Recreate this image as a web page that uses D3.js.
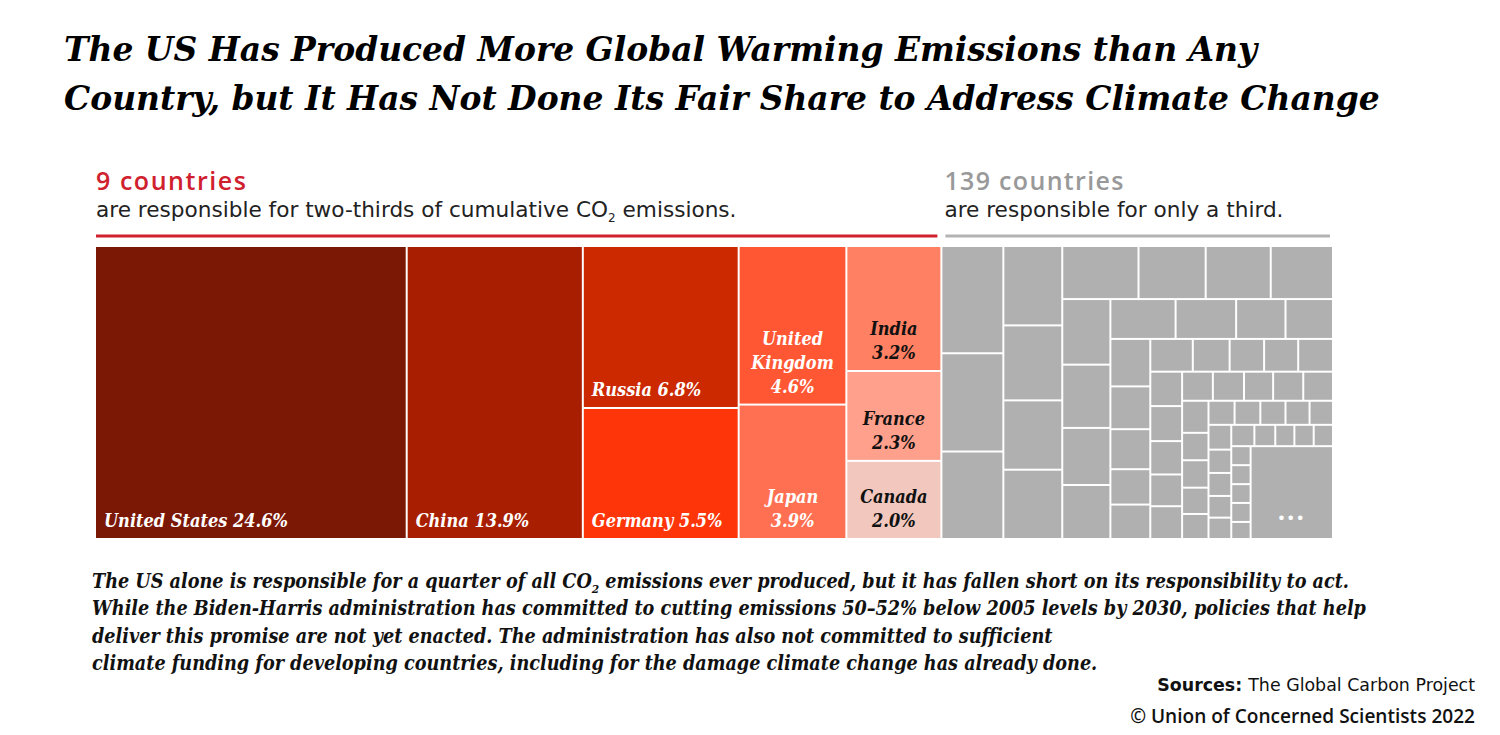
<!DOCTYPE html>
<html>
<head>
<meta charset="utf-8">
<script src="https://cdn.jsdelivr.net/npm/d3@7"></script>
<style>
	body { margin: 0; background: #fff; }
	svg { display: block; }
</style>
</head>
<body>
<div id="chart"></div>
<script>
// the 9 big emitters, share of cumulative CO2 (%)
var countries = ["United States", "China", "Russia", "Germany", "United Kingdom", "Japan", "India", "France", "Canada"];
var labelLines = [["United States 24.6%"], ["China 13.9%"], ["Russia 6.8%"], ["Germany 5.5%"], ["United", "Kingdom", "4.6%"], ["Japan", "3.9%"], ["India", "3.2%"], ["France", "2.3%"], ["Canada", "2.0%"]];
var shares = [24.6, 13.9, 6.8, 5.5, 4.6, 3.9, 3.2, 2.3, 2.0];
var colors = ["#7b1705", "#a81e00", "#cc2900", "#ff350a", "#ff5733", "#ff7052", "#ff8062", "#ffa08c", "#f2c8be"];
var textColors = ["#fff", "#fff", "#fff", "#fff", "#fff", "#fff", "#111", "#111", "#111"];
var centered = [false, false, false, false, true, true, true, true, true];
// which countries are stacked in the same column
var columnGroups = [[0], [1], [2, 3], [4, 5], [6, 7, 8]];

// the other 139 countries (%)
var grayColA = [1.79, 1.64, 1.46];
var grayColB = [1.26, 1.19, 1.10, 1.10];
var grayStrips = [
	[1.09, 0.96, 0.93, 0.89],
	[0.85, 0.82, 0.74, 0.70],
	[0.70, 0.65, 0.53, 0.51],
	[0.51, 0.46, 0.43, 0.38, 0.37],
	[0.375, 0.325, 0.304, 0.301, 0.307],
	[0.295, 0.30, 0.286, 0.272, 0.281],
	[0.241, 0.244, 0.228, 0.236, 0.233],
	[0.228, 0.195, 0.195, 0.187, 0.178],
	[0.169, 0.167, 0.163, 0.156, 0.152],
	[0.152, 0.143, 0.141, 0.133, 0.131],
	[0.133, 0.12, 0.11, 0.111, 0.111],
	[0.099, 0.099, 0.098, 0.099, 0.089]
];
var grayRest = 2.06;

var titleLines = ["The US Has Produced More Global Warming Emissions than Any", "Country, but It Has Not Done Its Fair Share to Address Climate Change"];
var noteLines = [
	["The US alone is responsible for a quarter of all CO", "2", " emissions ever produced, but it has fallen short on its responsibility to act."],
	["While the Biden-Harris administration has committed to cutting emissions 50\u201352% below 2005 levels by 2030, policies that help"],
	["deliver this promise are not yet enacted. The administration has also not committed to sufficient"],
	["climate funding for developing countries, including for the damage climate change has already done."]
];

var W = 1500, H = 735;
var svg = d3.select("#chart")
	.append("svg")
	.attr("width", W)
	.attr("height", H);

var serif = "'DejaVu Serif', serif";
var sans = "'DejaVu Sans', sans-serif";
var headSans = "'Open Sans', 'Noto Sans', sans-serif";

// scale a text so that it takes a given width
function fitSize(sel, width)
{
	var size = parseFloat(sel.attr("font-size"));
	var len = sel.node().getComputedTextLength();
	return size * width / len;
}

// title
var title = svg.append("g");
title.selectAll("text")
	.data(titleLines)
	.enter()
	.append("text")
	.attr("x", 64)
	.attr("y", function(d, i) { return 61 + i * 49; })
	.attr("font-family", serif)
	.attr("font-weight", "bold")
	.attr("font-style", "italic")
	.attr("font-size", 36)
	.attr("fill", "#000")
	.text(function(d) { return d; });
var ts = fitSize(title.selectAll("text").filter(function(d, i) { return i == 1; }), 1316);
title.selectAll("text").attr("font-size", ts);

// build hierarchy
function strip(vals)
{
	return { children: vals.map(function(v) { return { value: v, gray: true }; }) };
}
function spiral(i)
{
	if(i == grayStrips.length)
		return { value: grayRest, gray: true, rest: true };
	return { children: [strip(grayStrips[i]), spiral(i + 1)] };
}

var topNodes = [];
columnGroups.forEach(function(g)
{
	topNodes.push({ children: g.map(function(k) { return { value: shares[k], idx: k }; }) });
});
topNodes.push(strip(grayColA));
topNodes.push(strip(grayColB));
topNodes.push(spiral(0));

var root = d3.hierarchy({ children: topNodes }).sum(function(d) { return d.value || 0; });

var tx = 96, ty = 247, tw = 1236, th = 291;
d3.treemap()
	.tile(d3.treemapSliceDice)
	.size([tw, th])
	.paddingInner(2)
	.round(false)(root);

var leaves = root.leaves();
var map = svg.append("g").attr("transform", "translate(" + tx + "," + ty + ")");

var cell = map.selectAll("g")
	.data(leaves)
	.enter()
	.append("g")
	.attr("transform", function(d) { return "translate(" + d.x0 + "," + d.y0 + ")"; });

cell.append("rect")
	.attr("width", function(d) { return d.x1 - d.x0; })
	.attr("height", function(d) { return d.y1 - d.y0; })
	.attr("fill", function(d) { return d.data.gray ? "#b0b0b0" : colors[d.data.idx]; });

// country labels
cell.filter(function(d) { return !d.data.gray; })
	.each(function(d)
	{
		var k = d.data.idx;
		var w = d.x1 - d.x0, h = d.y1 - d.y0;
		var lines = labelLines[k];
		d3.select(this).selectAll("text")
			.data(lines)
			.enter()
			.append("text")
			.attr("x", centered[k] ? w / 2 : 8)
			.attr("y", function(t, i) { return h - 11 - (lines.length - 1 - i) * 24; })
			.attr("text-anchor", centered[k] ? "middle" : "start")
			.attr("font-family", serif)
			.attr("font-stretch", "condensed")
			.attr("font-weight", "bold")
			.attr("font-style", "italic")
			.attr("font-size", 18)
			.attr("fill", textColors[k])
			.text(function(t) { return t; });
	});

// the rest of the small countries
cell.filter(function(d) { return d.data.rest; })
	.append("text")
	.attr("x", function(d) { return (d.x1 - d.x0) / 2; })
	.attr("y", function(d) { return d.y1 - d.y0 - 18; })
	.attr("text-anchor", "middle")
	.attr("font-family", headSans)
	.attr("font-weight", "bold")
	.attr("font-size", 26)
	.attr("letter-spacing", 2)
	.attr("fill", "#fff")
	.text("...");

// group extents for headers
var colored = leaves.filter(function(d) { return !d.data.gray; });
var grays = leaves.filter(function(d) { return d.data.gray; });
var cx0 = tx + d3.min(colored, function(d) { return d.x0; });
var cx1 = tx + d3.max(colored, function(d) { return d.x1; });
var gx0 = tx + d3.min(grays, function(d) { return d.x0; });
var gx1 = tx + d3.max(grays, function(d) { return d.x1; });

svg.append("line")
	.attr("x1", cx0).attr("x2", cx1 - 3)
	.attr("y1", 236).attr("y2", 236)
	.attr("stroke", "#d0202e")
	.attr("stroke-width", 3);
svg.append("line")
	.attr("x1", gx0 + 3).attr("x2", gx1 - 2)
	.attr("y1", 236).attr("y2", 236)
	.attr("stroke", "#b3b3b3")
	.attr("stroke-width", 3);

var heads = [
	{ x: cx0, big: "9 countries", bigW: 150, color: "#d0202e", sub: ["are responsible for two-thirds of cumulative CO", "2", " emissions."], subW: 642 },
	{ x: gx0 + 2, big: "139 countries", bigW: 179, color: "#999999", sub: ["are responsible for only a third."], subW: 338 }
];
var subSize = null;
heads.forEach(function(h)
{
	var b = svg.append("text")
		.attr("x", h.x)
		.attr("y", 190)
		.attr("font-family", headSans)
		.attr("font-weight", 600)
		.attr("font-size", 25)
		.attr("fill", h.color)
		.text(h.big);
	var n = h.big.length - 1;
	b.attr("letter-spacing", (h.bigW - b.node().getComputedTextLength()) / n);

	var t = svg.append("text")
		.attr("x", h.x)
		.attr("y", 217)
		.attr("font-family", sans)
		.attr("font-size", 19)
		.attr("fill", "#222");
	h.sub.forEach(function(s, i)
	{
		var sp = t.append("tspan").text(s);
		if(i == 1)
			sp.attr("class", "sub").attr("font-size", 12).attr("dy", 5);
		if(i == 2)
			sp.attr("dy", -5);
	});
	if(subSize == null)
		subSize = fitSize(t, h.subW);
	t.attr("font-size", subSize);
});

// footnote
var note = svg.append("g");
noteLines.forEach(function(parts, j)
{
	var t = note.append("text")
		.attr("x", 92)
		.attr("y", 588 + j * 27.3)
		.attr("font-family", serif)
		.attr("font-stretch", "condensed")
		.attr("font-weight", "bold")
		.attr("font-style", "italic")
		.attr("font-size", 18)
		.attr("fill", "#111");
	parts.forEach(function(s, i)
	{
		var sp = t.append("tspan").text(s);
		if(i == 1)
			sp.attr("class", "sub").attr("dy", 5);
		if(i == 2)
			sp.attr("dy", -5);
	});
});
var ns = fitSize(note.selectAll("text").filter(function(d, i) { return i == 1; }), 1274);
note.selectAll("text").attr("font-size", ns);
note.selectAll(".sub").attr("font-size", ns * 0.6);

// sources
var src = svg.append("text")
	.attr("x", 1475)
	.attr("y", 691)
	.attr("text-anchor", "end")
	.attr("font-family", sans)
	.attr("font-size", 17)
	.attr("fill", "#111");
src.append("tspan").attr("font-weight", "bold").text("Sources: ");
src.append("tspan").text("The Global Carbon Project");
src.attr("font-size", fitSize(src, 318));

var copy = svg.append("text")
	.attr("x", 1475)
	.attr("y", 723)
	.attr("text-anchor", "end")
	.attr("font-family", headSans)
	.attr("font-weight", 600)
	.attr("font-size", 17)
	.attr("fill", "#111")
	.text("\u00a9 Union of Concerned Scientists 2022");
copy.attr("font-size", fitSize(copy, 345));
</script>
</body>
</html>
